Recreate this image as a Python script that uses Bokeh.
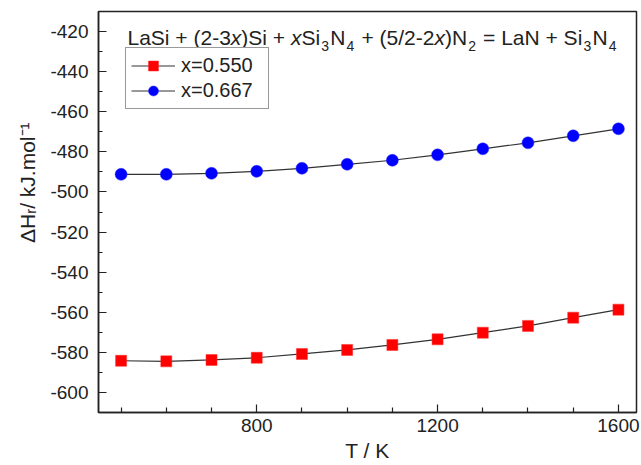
from bokeh.plotting import figure
from bokeh.models import Range1d, FixedTicker, Label, Title, PrintfTickFormatter
from bokeh.embed import file_html
from bokeh.resources import INLINE

# ---- data ----
T = [500, 600, 700, 800, 900, 1000, 1100, 1200, 1300, 1400, 1500, 1600]
dH_x0550 = [-584.2, -584.5, -583.8, -582.7, -580.8, -578.8, -576.3, -573.5, -570.2, -566.8, -562.7, -558.7]
dH_x0667 = [-491.2, -491.2, -490.7, -489.7, -488.2, -486.2, -484.2, -481.5, -478.5, -475.5, -472.0, -468.5]
series_labels = ["x=0.550", "x=0.667"]
x_major = [800, 1200, 1600]
x_minor = [500, 600, 700, 900, 1000, 1100, 1300, 1400, 1500]
y_major = list(range(-600, -419, 20))
y_minor = list(range(-610, -409, 10))
x_lim = (450, 1640)
y_lim = (-610, -410)

FONT = "Liberation Sans"
INK = "#222222"

p = figure(width=641, height=465, x_range=Range1d(*x_lim), y_range=Range1d(*y_lim),
           output_backend="svg", toolbar_location=None,
           min_border_left=98, min_border_right=5, min_border_top=11, min_border_bottom=53)
p.xgrid.visible = False
p.ygrid.visible = False
p.outline_line_color = INK
p.outline_line_width = 1.5
p.background_fill_color = "white"

p.xaxis.ticker = FixedTicker(ticks=x_major, minor_ticks=x_minor)
p.yaxis.ticker = FixedTicker(ticks=y_major, minor_ticks=y_minor)
for ax in (p.xaxis, p.yaxis):
    ax.formatter = PrintfTickFormatter(format="%d")
    ax.axis_line_color = INK
    ax.axis_line_width = 1.5
    ax.major_tick_line_color = INK
    ax.minor_tick_line_color = INK
    ax.major_tick_line_width = 1.2
    ax.minor_tick_line_width = 1.2
    ax.major_tick_out = 0
    ax.minor_tick_out = 0
    ax.major_tick_in = 8
    ax.major_label_text_font = FONT
    ax.major_label_text_font_size = "19px"
    ax.major_label_text_color = INK
p.xaxis.minor_tick_in = 5
p.yaxis.minor_tick_in = 4
p.xaxis.major_label_standoff = 6
p.yaxis.major_label_standoff = 10
p.xaxis.axis_label = "T / K"
p.xaxis.axis_label_text_font = FONT
p.xaxis.axis_label_text_font_size = "21px"
p.xaxis.axis_label_text_font_style = "normal"
p.xaxis.axis_label_text_color = INK
p.xaxis.axis_label_standoff = 4

# y axis title, placed in the left panel
p.add_layout(Title(text="ΔHᵣ/ kJ.mol⁻¹", align="right", offset=111, standoff=18,
                   text_font=FONT, text_font_size="21px", text_font_style="normal",
                   text_color=INK), "left")

# ---- series ----
p.line(T, dH_x0550, line_color="#333333", line_width=1.2, legend_label=series_labels[0])
p.scatter(T, dH_x0550, marker="square", size=11, fill_color="#ff0000", line_color="#ff2a2a",
          line_width=0.5, legend_label=series_labels[0])
p.line(T, dH_x0667, line_color="#333333", line_width=1.2, legend_label=series_labels[1])
p.scatter(T, dH_x0667, marker="circle", size=12, fill_color="#0000ff", line_color="#2a2aff",
          line_width=0.5, legend_label=series_labels[1])

lg = p.legend[0]
lg.location = (27, 303)
lg.glyph_width = 44
lg.glyph_height = 25
lg.label_height = 25
lg.label_width = 82
lg.spacing = 0
lg.padding = 5
lg.margin = 0
lg.label_standoff = 6
lg.label_text_font = FONT
lg.label_text_font_size = "20px"
lg.label_text_color = INK
lg.border_line_color = "#333333"
lg.border_line_width = 1
lg.background_fill_alpha = 1

# ---- rich text for the equation (Arial/Liberation advance widths, per 1000 em) ----
W = {' ': 278, '+': 584, '(': 333, ')': 333, '-': 333, '/': 278, '=': 584, '.': 278,
     'L': 556, 'a': 556, 'S': 667, 'i': 222, 'x': 500, 'N': 722}
for d in "0123456789":
    W[d] = 556


def adv(s, size):
    return sum(W.get(c, 556) for c in s) * size / 1000.0


eq = [("LaSi + (2-3", "n"), ("x", "i"), (")Si + ", "n"), ("x", "i"), ("Si", "n"), ("3", "s"),
      ("N", "n"), ("4", "s"), (" + (5/2-2", "n"), ("x", "i"), (")N", "n"), ("2", "s"),
      (" = LaN + Si", "n"), ("3", "s"), ("N", "n"), ("4", "s")]
big, small, sub_pad = 21, 14, 1.2
cur = 29.0
for seg, st in eq:
    size = small if st == "s" else big
    if st == "s":
        cur += sub_pad
    lead = len(seg) - len(seg.lstrip(" "))
    txt = seg.strip(" ")
    p.add_layout(Label(x=x_lim[0], y=y_lim[1], x_offset=cur + adv(" " * lead, size),
                       y_offset=-26.3 - (8 if st == "s" else 0), text=txt,
                       text_font=FONT, text_font_size=f"{size}px",
                       text_font_style="italic" if st == "i" else "normal",
                       text_color=INK, text_align="left", text_baseline="alphabetic"))
    cur += adv(seg, size)
    if st == "s":
        cur += sub_pad

open("out.html", "w").write(file_html(p, INLINE))
